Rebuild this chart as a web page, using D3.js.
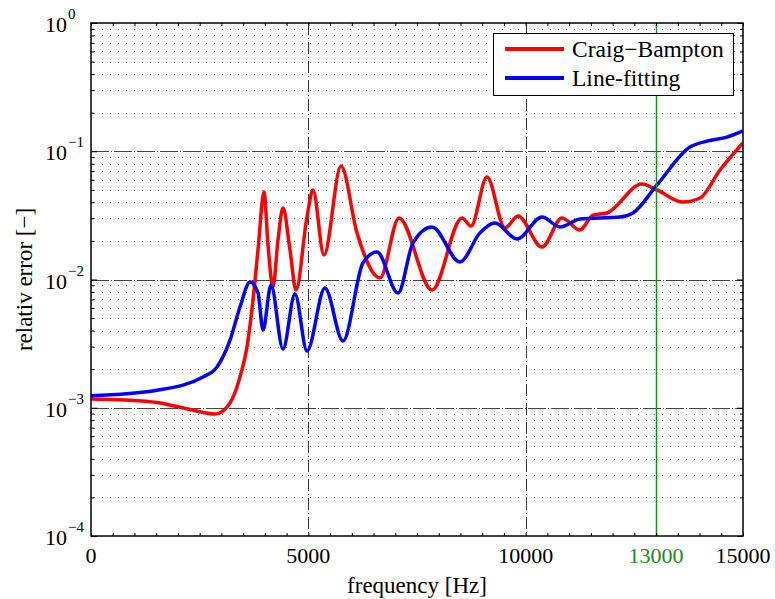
<!DOCTYPE html>
<html><head><meta charset="utf-8">
<script src="https://cdn.jsdelivr.net/npm/d3@7"></script>
<style>
body{margin:0;background:#fff}
svg, svg text{font-family:"Liberation Serif","DejaVu Serif","Times New Roman",serif}
</style>
</head><body>
<svg id="chart" width="775" height="599" font-family="Liberation Serif, DejaVu Serif, serif"></svg>
<script>
// ---- data ----
const cbFreq = [0,800,1518,2278,2853,3198,3428,3589,3727,3842,3980,4072,4187,4302,4417,4578,4716,4969,5107,5360,5752,6120,6649,7086,7845,8535,8742,9110,9524,9824,10376,10836,11250,11549,11871,12676,13021,13620,14011,14471,15000];
const cbErr  = [1.17e-3,1.15e-3,1.10e-3,9.7e-4,8.93e-4,1.09e-3,1.74e-3,2.98e-3,6.92e-3,0.0170,0.0481,0.0186,8.74e-3,0.0203,0.0361,0.0170,8.28e-3,0.0307,0.0499,0.0155,0.0767,0.0231,0.0103,0.0302,8.28e-3,0.0302,0.0261,0.0630,0.0252,0.0313,0.0179,0.0302,0.0243,0.0318,0.0330,0.0555,0.0499,0.0402,0.0432,0.0714,0.116];
const lfFreq = [0,1518,2577,2899,3198,3428,3658,3842,3957,4141,4417,4693,4969,5383,5798,6258,6580,7063,7408,7845,8489,8949,9294,9800,10376,10790,11250,12170,12469,13021,13780,14171,14632,15000];
const lfErr  = [1.24e-3,1.37e-3,1.74e-3,2.08e-3,3.37e-3,6.10e-3,9.55e-3,7.85e-3,4.04e-3,9.06e-3,2.87e-3,7.71e-3,2.77e-3,8.59e-3,3.31e-3,0.0135,0.0164,7.85e-3,0.0193,0.0257,0.0137,0.0231,0.0276,0.0207,0.0307,0.0257,0.0296,0.0307,0.0330,0.0546,0.108,0.120,0.129,0.144];
const seriesNames = ["Craig\u2212Bampton","Line-fitting"];
const seriesColors = ["#ff0000","#0000ff"];
const xTickValues = [0,5000,10000,13000,15000];
const xTickLabels = ["0","5000","10000","13000","15000"];
const xGridValues = [5000,10000];
const yDecadeExponents = [0,-1,-2,-3,-4];
const markerFreq = 13000;
const xTitle = "frequency [Hz]";
const yTitle = "relativ error [\u2212]";

// ---- layout ----
const FONT = "Liberation Serif, DejaVu Serif, serif";
const L=91, R=743, T=23, B=536;
const green = "#228b22";
const svg = d3.select("#chart");
const x = d3.scaleLinear().domain([0,15000]).range([L,R]);
const y = d3.scaleLog().domain([1e-4,1]).range([B,T]);

const minorY = [];
for (let d=-4; d<0; d++) for (let k=2;k<=9;k++) minorY.push(k*Math.pow(10,d));
const majorY = yDecadeExponents.map(e=>Math.pow(10,e));
const minorX = d3.range(0,15001,500);

// grid
const g = svg.append("g");
g.selectAll("line.mny").data(minorY).join("line")
  .attr("x1",L+3).attr("x2",R).attr("y1",d=>Math.round(y(d))+0.5).attr("y2",d=>Math.round(y(d))+0.5)
  .attr("stroke","#666").attr("stroke-width",1).attr("stroke-dasharray","1,7");
g.selectAll("line.mjy").data(majorY.filter(v=>v<1 && v>1e-4)).join("line")
  .attr("x1",L).attr("x2",R).attr("y1",d=>Math.round(y(d))+0.5).attr("y2",d=>Math.round(y(d))+0.5)
  .attr("stroke","#444").attr("stroke-width",1).attr("stroke-dasharray","18,2,1,2");
g.selectAll("line.mjx").data(xGridValues).join("line")
  .attr("x1",d=>Math.round(x(d))+0.5).attr("x2",d=>Math.round(x(d))+0.5).attr("y1",T).attr("y2",B)
  .attr("stroke","#333").attr("stroke-width",1).attr("stroke-dasharray","12,3,1,3");

// curves
svg.append("clipPath").attr("id","clip").append("rect").attr("x",L).attr("y",T).attr("width",R-L).attr("height",B-T);
const line = d3.line().x(d=>x(d[0])).y(d=>y(d[1])).curve(d3.curveMonotoneX);
const series = [d3.zip(cbFreq,cbErr), d3.zip(lfFreq,lfErr)];
svg.append("g").attr("clip-path","url(#clip)").selectAll("path").data(series).join("path")
  .attr("d",line).attr("fill","none").attr("stroke",(d,i)=>seriesColors[i])
  .attr("stroke-width",3.5).attr("stroke-linejoin","round");

// marker line
svg.append("line").attr("x1",Math.round(x(markerFreq))+0.5).attr("x2",Math.round(x(markerFreq))+0.5)
  .attr("y1",T).attr("y2",B).attr("stroke",green).attr("stroke-width",1.5);

// axes ticks (inward)
const ax = svg.append("g");
ax.append("g").attr("transform",`translate(0,${B})`).call(d3.axisBottom(x).tickValues(minorX).tickSize(-3).tickFormat("").tickSizeOuter(0));
ax.append("g").attr("transform",`translate(0,${T})`).call(d3.axisTop(x).tickValues(minorX).tickSize(-3).tickFormat("").tickSizeOuter(0));
ax.append("g").attr("transform",`translate(${L},0)`).call(d3.axisLeft(y).tickValues(minorY).tickSize(-3).tickFormat("").tickSizeOuter(0));
ax.append("g").attr("transform",`translate(${R},0)`).call(d3.axisRight(y).tickValues(minorY).tickSize(-3).tickFormat("").tickSizeOuter(0));
ax.append("g").attr("transform",`translate(${L},0)`).call(d3.axisLeft(y).tickValues(majorY).tickSize(-6).tickFormat("").tickSizeOuter(0));
ax.append("g").attr("transform",`translate(${R},0)`).call(d3.axisRight(y).tickValues(majorY).tickSize(-6).tickFormat("").tickSizeOuter(0));
ax.selectAll(".domain").remove();
ax.selectAll("line").attr("stroke","#000");

// frame
svg.append("rect").attr("x",L).attr("y",T).attr("width",R-L).attr("height",B-T)
  .attr("fill","none").attr("stroke","#000").attr("stroke-width",1.5);

// x tick labels
svg.append("g").selectAll("text").data(xTickValues).join("text")
  .attr("x",d=>x(d)).attr("y",563).attr("text-anchor","middle").attr("font-size",22)
  .attr("font-family",FONT)
  .style("fill",d=>d===markerFreq?green:"#000")
  .text((d,i)=>xTickLabels[i]);

// y tick labels 10^e
const yl = svg.append("g").selectAll("text").data(yDecadeExponents).join("text")
  .attr("x",45).attr("y",e=>y(Math.pow(10,e))+9).attr("font-size",22).attr("font-family",FONT);
yl.append("tspan").text("10");
yl.append("tspan").attr("dy",-13).attr("dx",1).attr("font-size",15).text(e=>e<0?"\u2212"+(-e):String(e));

// axis titles
svg.append("text").attr("x",(L+R)/2).attr("y",593).attr("text-anchor","middle").attr("font-size",23)
  .attr("font-family",FONT).text(xTitle);
svg.append("text").attr("transform",`translate(32,${(T+B)/2}) rotate(-90)`).attr("text-anchor","middle")
  .attr("font-size",23).attr("font-family",FONT).text(yTitle);

// legend
const lg = svg.append("g");
lg.append("rect").attr("x",493.5).attr("y",33.5).attr("width",240).attr("height",62)
  .attr("fill","#fff").attr("stroke","#000").attr("stroke-width",1);
seriesNames.forEach((n,i)=>{
  const yy = 49 + i*29;
  lg.append("line").attr("x1",505).attr("x2",564).attr("y1",yy).attr("y2",yy)
    .attr("stroke",seriesColors[i]).attr("stroke-width",4);
  lg.append("text").attr("x",572).attr("y",yy+8).attr("font-size",23.5).attr("font-family",FONT).text(n);
});
</script>
</body></html>
